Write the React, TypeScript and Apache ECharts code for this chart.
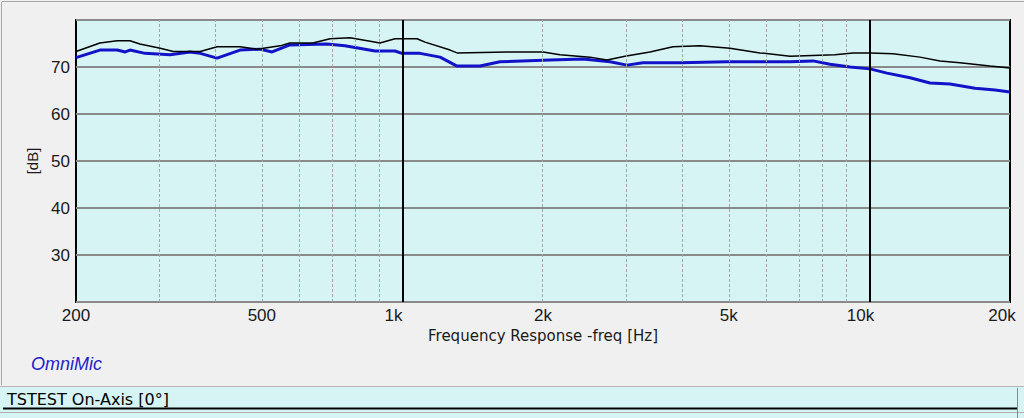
import React, { useEffect, useRef } from "react";
import * as echarts from "echarts";

// ---- data ----
const blackFreq = [200, 225, 245, 261, 274, 303, 323, 369, 401, 449, 488, 547, 574, 643, 700, 772, 853, 895, 964, 998, 1075, 1118, 1265, 1309, 1674, 2000, 2175, 2522, 2742, 2996, 3389, 3796, 4338, 5028, 5830, 6761, 8440, 9225, 10028, 11234, 12833, 14162, 15628, 18121, 20000];
const blackDb = [73.3, 75.1, 75.6, 75.6, 74.9, 74.0, 73.3, 73.3, 74.3, 74.3, 73.8, 74.5, 75.1, 75.1, 76.0, 76.2, 75.5, 75.1, 76.0, 76.0, 76.0, 75.3, 73.6, 73.0, 73.2, 73.2, 72.6, 72.1, 71.5, 72.3, 73.2, 74.3, 74.5, 74.0, 73.0, 72.3, 72.6, 73.0, 73.0, 72.8, 72.1, 71.3, 70.9, 70.2, 69.8];

const blueFreq = [200, 225, 245, 255, 261, 281, 318, 351, 369, 401, 449, 495, 526, 574, 689, 753, 874, 964, 998, 1091, 1204, 1309, 1466, 1618, 2070, 2436, 2783, 3026, 3274, 3931, 4955, 6761, 7572, 8236, 9089, 10028, 10907, 12216, 13483, 14877, 16828, 18577, 20000];
const blueDb = [72.0, 73.6, 73.6, 73.2, 73.6, 72.9, 72.6, 73.2, 72.9, 71.9, 73.6, 73.8, 73.2, 74.7, 74.9, 74.5, 73.4, 73.4, 72.9, 72.9, 72.1, 70.2, 70.2, 71.1, 71.5, 71.7, 71.1, 70.4, 70.9, 70.9, 71.1, 71.1, 71.3, 70.6, 70.0, 69.6, 68.7, 67.7, 66.6, 66.4, 65.5, 65.1, 64.7];

const xTickFreqs = [200, 500, 1000, 2000, 5000, 10000, 20000];
const xTickLabels = ["200", "500", "1k", "2k", "5k", "10k", "20k"];
const minorGridFreqs = [300, 400, 500, 600, 700, 800, 900, 2000, 3000, 4000, 5000, 6000, 7000, 8000, 9000];
const majorGridFreqs = [1000, 10000];
const yTicks = [30, 40, 50, 60, 70];
const yMin = 20;
const yMax = 80;
const fMin = 200;
const fMax = 20000;

const FONT = "'Liberation Sans', Arial, sans-serif";
const WIDE = "'DejaVu Sans', 'Liberation Sans', sans-serif";

export default function App() {
  const ref = useRef<HTMLDivElement>(null);

  useEffect(() => {
    document.body.style.margin = "0";
    const chart = echarts.init(ref.current!, null, { renderer: "svg" });
    const lg = (f: number) => Math.log10(f);
    const shifted: Record<string, number> = { "1k": 18, "10k": 18, "20k": 16 };

    const option: any = {
      animation: false,
      backgroundColor: "#f0f0f0",
      grid: {
        left: 76,
        top: 20,
        right: 14,
        bottom: 116,
        show: true,
        backgroundColor: "#d6f4f4",
        borderColor: "#000000",
        borderWidth: 2,
      },
      xAxis: {
        type: "value",
        min: lg(fMin),
        max: lg(fMax),
        name: "Frequency Response -freq [Hz]",
        nameLocation: "middle",
        nameGap: 26,
        nameTextStyle: { fontFamily: WIDE, fontSize: 15, color: "#1a1a1a" },
        axisLine: { show: false },
        axisTick: { show: false },
        splitLine: { show: false },
        axisLabel: {
          customValues: xTickFreqs.map(lg),
          margin: 5,
          fontFamily: FONT,
          fontSize: 17,
          color: "#1a1a1a",
          formatter: (v: number) => {
            let best = 0;
            xTickFreqs.forEach((f, i) => {
              if (Math.abs(lg(f) - v) < Math.abs(lg(xTickFreqs[best]) - v)) best = i;
            });
            const t = xTickLabels[best];
            return shifted[t] ? `{s${shifted[t]}|${t}}` : t;
          },
          rich: {
            s18: { fontFamily: FONT, fontSize: 17, color: "#1a1a1a", padding: [0, 18, 0, 0] },
            s16: { fontFamily: FONT, fontSize: 17, color: "#1a1a1a", padding: [0, 16, 0, 0] },
          },
        },
      },
      yAxis: {
        type: "value",
        min: yMin,
        max: yMax,
        interval: 10,
        name: "[dB]",
        nameLocation: "middle",
        nameRotate: 90,
        nameGap: 36,
        nameTextStyle: { fontFamily: FONT, fontSize: 15, color: "#1a1a1a" },
        axisLine: { show: false },
        axisTick: { show: false },
        axisLabel: {
          customValues: yTicks,
          margin: 6,
          fontFamily: FONT,
          fontSize: 17,
          color: "#1a1a1a",
        },
        splitLine: {
          show: true,
          lineStyle: { color: "#8a8a8a", width: 2 },
        },
      },
      series: [
        {
          type: "line",
          name: "grid",
          data: [],
          silent: true,
          markLine: {
            silent: true,
            symbol: "none",
            label: { show: false },
            data: [
              ...minorGridFreqs.map((f) => ({
                xAxis: lg(f),
                lineStyle: { color: "#a4a4a4", width: 1, type: [3, 2] },
              })),
              ...majorGridFreqs.map((f) => ({
                xAxis: lg(f),
                lineStyle: { color: "#000000", width: 2, type: "solid" },
              })),
            ],
          },
        },
        {
          type: "line",
          name: "blue",
          data: blueFreq.map((f, i) => [lg(f), blueDb[i]]),
          showSymbol: false,
          lineStyle: { color: "#1212c8", width: 3 },
          itemStyle: { color: "#1212c8" },
        },
        {
          type: "line",
          name: "black",
          data: blackFreq.map((f, i) => [lg(f), blackDb[i]]),
          showSymbol: false,
          lineStyle: { color: "#000000", width: 1.5 },
          itemStyle: { color: "#000000" },
        },
      ],
      graphic: [
        { type: "line", shape: { x1: 2, y1: 1.5, x2: 1024, y2: 1.5 }, style: { stroke: "#a8a8a8", lineWidth: 1 } },
        { type: "line", shape: { x1: 1.5, y1: 2, x2: 1.5, y2: 385 }, style: { stroke: "#a8a8a8", lineWidth: 1 } },
        {
          type: "text",
          left: 31,
          top: 355,
          style: { text: "OmniMic", fontFamily: FONT, fontSize: 18, fontStyle: "italic", fill: "#2222c8" },
        },
        { type: "rect", shape: { x: 0, y: 387, width: 1024, height: 31 }, style: { fill: "#d6f4f4" } },
        { type: "line", shape: { x1: 0, y1: 386.5, x2: 1024, y2: 386.5 }, style: { stroke: "#b4b4b4", lineWidth: 1 } },
        { type: "line", shape: { x1: 3, y1: 408.5, x2: 1017, y2: 408.5 }, style: { stroke: "#000000", lineWidth: 2 } },
        { type: "line", shape: { x1: 0, y1: 412.5, x2: 1024, y2: 412.5 }, style: { stroke: "#b0b0b0", lineWidth: 1 } },
        { type: "line", shape: { x1: 1017.5, y1: 388, x2: 1017.5, y2: 418 }, style: { stroke: "#8a8a8a", lineWidth: 1 } },
        {
          type: "text",
          left: 7,
          top: 391,
          style: { text: "TSTEST On-Axis [0°]", fontFamily: WIDE, fontSize: 16, fill: "#000000" },
        },
      ],
    };
    chart.setOption(option);
    return () => chart.dispose();
  }, []);

  return (
    <div
      ref={ref}
      style={{ position: "fixed", left: 0, top: 0, width: 1024, height: 418 }}
    />
  );
}
